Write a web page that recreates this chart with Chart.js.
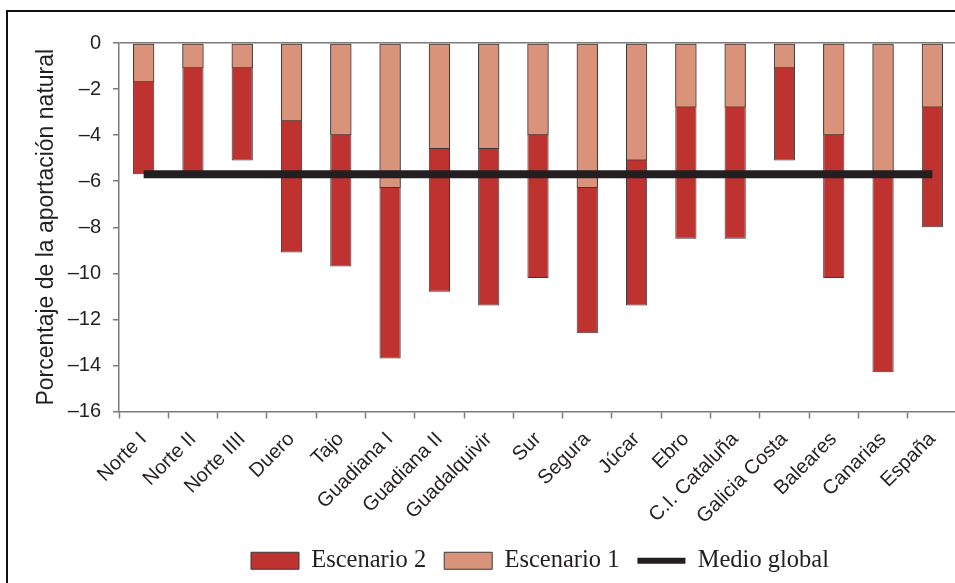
<!DOCTYPE html>
<html>
<head>
<meta charset="utf-8">
<script src="https://cdn.jsdelivr.net/npm/chart.js@4/dist/chart.umd.min.js"></script>
<style>
    html, body { margin: 0; padding: 0; background: #fff; overflow: hidden; }
    #wrap { position: relative; width: 955px; height: 583px; overflow: hidden; }
    #frame { position: absolute; left: 6px; top: 10px; width: 1000px; height: 620px; border: 2px solid #111; box-sizing: border-box; }
    #box { position: absolute; left: 0; top: 0; width: 1080px; height: 583px; }
</style>
</head>
<body>
<div id="wrap">
    <div id="frame"></div>
    <div id="box"><canvas id="voteChart"></canvas></div>
</div>
<script>
// Chart data
const categories = ['Norte I', 'Norte II', 'Norte IIII', 'Duero', 'Tajo', 'Guadiana I', 'Guadiana II',
    'Guadalquivir', 'Sur', 'Segura', 'Júcar', 'Ebro', 'C.I. Cataluña', 'Galicia Costa', 'Baleares',
    'Canarias', 'España'];
const escenario1 = [-1.7, -1.1, -1.1, -3.4, -4.0, -6.3, -4.6, -4.6, -4.0, -6.3, -5.1, -2.8, -2.8, -1.1, -4.0, -5.8, -2.8];
const escenario2 = [-5.7, -5.8, -5.1, -9.1, -9.7, -13.7, -10.8, -11.4, -10.2, -12.6, -11.4, -8.5, -8.5, -5.1, -10.2, -14.3, -8.0];
const medioGlobal = [-5.7, -5.7, -5.7, -5.7, -5.7, -5.7, -5.7, -5.7, -5.7, -5.7, -5.7, -5.7, -5.7, -5.7, -5.7, -5.7, -5.7];
const yTicks = [0, -2, -4, -6, -8, -10, -12, -14, -16];

const axisGray = '#7a7a7a';
const textColor = '#231f20';

document.addEventListener("DOMContentLoaded", function() {
    const ctx = document.getElementById("voteChart").getContext("2d");

    new Chart(ctx, {
        data: {
            labels: categories,
            datasets: [
                {
                    type: 'bar',
                    label: 'Escenario 2',
                    data: escenario2,
                    backgroundColor: '#be3230',
                    borderColor: '#3a3a3a',
                    borderWidth: 1,
                    borderSkipped: false,
                    order: 2
                },
                {
                    type: 'bar',
                    label: 'Escenario 1',
                    data: escenario1,
                    backgroundColor: '#d8937a',
                    borderColor: '#3a3a3a',
                    borderWidth: 1,
                    borderSkipped: false,
                    order: 1
                },
                {
                    type: 'line',
                    label: 'Medio global',
                    data: medioGlobal,
                    borderColor: '#231f20',
                    backgroundColor: '#231f20',
                    borderWidth: 8,
                    borderCapStyle: 'butt',
                    pointRadius: 0,
                    fill: false,
                    order: 0
                }
            ]
        },
        options: {
            responsive: true,
            maintainAspectRatio: false,
            animation: false,
            layout: { padding: { top: 43, left: 0, right: 0, bottom: 0 } },
            datasets: {
                bar: { categoryPercentage: 1.0, barPercentage: 0.43 }
            },
            scales: {
                x: {
                    stacked: true,
                    offset: true,
                    border: { display: true, color: axisGray, width: 1.5 },
                    grid: { display: true, offset: true, drawOnChartArea: false, drawTicks: true, tickLength: 7, tickColor: axisGray, tickWidth: 1.5 },
                    ticks: {
                        autoSkip: false,
                        minRotation: 45,
                        maxRotation: 45,
                        padding: 9,
                        labelOffset: 0,
                        color: textColor,
                        font: { family: 'Liberation Sans', size: 20 }
                    },
                    afterFit: function(scale) { scale.height = 119; }
                },
                y: {
                    stacked: false,
                    min: -16,
                    max: 0,
                    border: { display: true, color: axisGray, width: 1.5 },
                    grid: {
                        drawOnChartArea: true,
                        color: c => (c.tick && c.tick.value === 0) ? axisGray : 'rgba(0,0,0,0)',
                        lineWidth: 1.5,
                        tickLength: 6,
                        tickColor: axisGray,
                        tickWidth: 1.5
                    },
                    afterBuildTicks: function(scale) {
                        scale.ticks = yTicks.map(v => ({ value: v }));
                    },
                    ticks: {
                        padding: 12,
                        color: textColor,
                        font: { family: 'Liberation Sans', size: 20 },
                        callback: v => v < 0 ? '\u2013' + Math.abs(v) : String(v)
                    },
                    title: {
                        display: true,
                        text: 'Porcentaje de la aportación natural',
                        color: textColor,
                        font: { family: 'Liberation Sans', size: 23 },
                        padding: { top: 33, bottom: 0 }
                    },
                    afterFit: function(scale) { scale.width = 119; }
                },
                yr: {
                    position: 'right',
                    display: true,
                    border: { display: false },
                    grid: { display: false },
                    ticks: { display: false },
                    afterFit: function(scale) { scale.width = 123; }
                }
            },
            plugins: {
                tooltip: { enabled: false },
                legend: {
                    position: 'bottom',
                    labels: {
                        usePointStyle: true,
                        pointStyleWidth: 48,
                        boxHeight: 17,
                        padding: 18,
                        color: textColor,
                        font: { family: 'Liberation Serif', size: 24.5 },
                        sort: (a, b) => a.datasetIndex - b.datasetIndex,
                        generateLabels: function(chart) {
                            const items = Chart.defaults.plugins.legend.labels.generateLabels(chart);
                            return items.map(item => {
                                const isLine = chart.data.datasets[item.datasetIndex].type === 'line';
                                item.pointStyle = isLine ? 'line' : 'rect';
                                item.lineWidth = isLine ? 6 : 1;
                                item.strokeStyle = isLine ? '#231f20' : '#3a3a3a';
                                item.lineCap = 'butt';
                                return item;
                            });
                        }
                    }
                }
            }
        }
    });
});
</script>
</body>
</html>
